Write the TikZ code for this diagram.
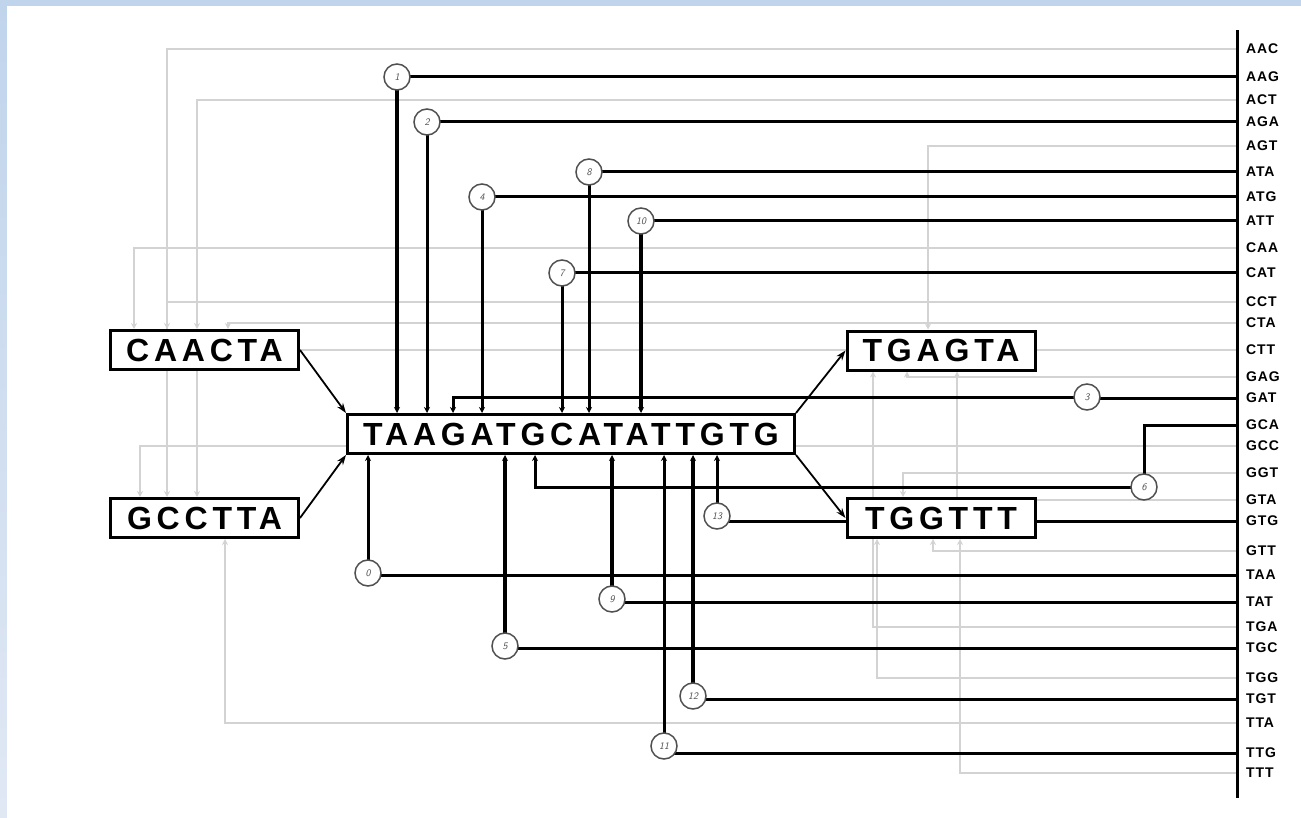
\documentclass[tikz,border=0pt]{standalone}
\usepackage{fontspec}
\setmainfont{Liberation Sans}
\newfontfamily\boxfont{Liberation Sans}[LetterSpace=15]
\newfontfamily\codonfont{Liberation Sans}[LetterSpace=6]
\usetikzlibrary{arrows.meta}
\definecolor{lg}{RGB}{211,211,211}
\definecolor{frameA}{RGB}{192,212,236}
\definecolor{frameB}{RGB}{224,232,244}
\definecolor{ring}{RGB}{80,80,80}
\pgfdeclarelayer{bg}
\pgfdeclarelayer{lines}
\pgfsetlayers{bg,lines,main}
\begin{document}
\begin{tikzpicture}[x=1pt,y=-1pt,
  seqbox/.style={draw=black,line width=3pt,fill=white,inner sep=0pt,minimum width=188pt,minimum height=39pt,font=\boxfont\bfseries\fontsize{32}{32}\selectfont},
  bigbox/.style={seqbox,minimum width=447pt},
  codon/.style={anchor=west,inner sep=0pt,font=\codonfont\bfseries\fontsize{14}{14}\selectfont},
  num/.style={circle,draw=ring,line width=1.5pt,fill=white,minimum size=26pt,inner sep=0pt,font=\sffamily\itshape\fontsize{10}{10}\selectfont,text=ring},
  blk/.style={draw=black,line width=3pt},
  blkarr/.style={blk,-{Stealth[length=6pt,width=6pt]}},
  gry/.style={draw=lg,line width=2.6pt,-{Stealth[length=6pt,width=6pt]}},
  link/.style={draw=black,line width=1.8pt,-{Stealth[length=10pt,width=7pt]}}
]
\useasboundingbox (0,0) rectangle (1301,818);
\begin{pgfonlayer}{bg}
  \shade[top color=frameA,bottom color=frameB] (0,0) rectangle (1301,818);
  \fill[white] (7,6) rectangle (1301,818);
\end{pgfonlayer}

% codon rows
\foreach \n/\yy in {AAC/49,AAG/77,ACT/100,AGA/122,AGT/146,ATA/172,ATG/197,ATT/221,CAA/248,CAT/273,CCT/302,CTA/323,CTT/350,GAG/377,GAT/398,GCA/425,GCC/446,GGT/473,GTA/500,GTG/521,GTT/551,TAA/575,TAT/602,TGA/627,TGC/648,TGG/678,TGT/699,TTA/723,TTG/753,TTT/773}{
  \coordinate (r\n) at (1237,\yy);
  \node[codon] (l\n) at (1246,\yy) {\n};
}
\coordinate (vtop) at (1237,30);
\coordinate (vbot) at (1237,798);
\draw[line width=3pt] (vtop) -- (vbot);

% sequence boxes
\node[seqbox] (CAACTA) at (204.5,350) {CAACTA};
\node[seqbox] (GCCTTA) at (204.5,518) {GCCTTA};
\node[bigbox] (TAAG) at (571,434) {TAAGATGCATATTGTG};
\node[seqbox] (TGAGTA) at (941,350.5) {TGAGTA};
\node[seqbox] (TGGTTT) at (941,518) {TGGTTT};

% numbered circles
\node[num] (c0) at (368,573) {0};
\node[num] (c1) at (397,77) {1};
\node[num] (c2) at (427,122) {2};
\node[num] (c3) at (1087,397) {3};
\node[num] (c4) at (482,197) {4};
\node[num] (c5) at (505,646) {5};
\node[num] (c6) at (1144,487) {6};
\node[num] (c7) at (562,273) {7};
\node[num] (c8) at (589,172) {8};
\node[num] (c9) at (612,599) {9};
\node[num] (c10) at (641,221) {10};
\node[num] (c11) at (664,746) {11};
\node[num] (c12) at (693,696) {12};
\node[num] (c13) at (717,516) {13};

% arrows between boxes
\draw[link] (CAACTA.east) -- (TAAG.north west);
\draw[link] (GCCTTA.east) -- (TAAG.south west);
\draw[link] (TAAG.north east) -- (TGAGTA.west);
\draw[link] (TAAG.south east) -- (TGGTTT.west);

\begin{pgfonlayer}{lines}
  % gray probe lines
  \draw[gry] (rAAC) -| (167,0 |- CAACTA.north);
  \draw[gry] (rACT) -| (197,0 |- CAACTA.north);
  \draw[gry] (rCAA) -| (134,0 |- CAACTA.north);
  \draw[gry] (rCTA) -| (228,0 |- CAACTA.north);
  \draw[gry] (rCCT) -| (167,0 |- GCCTTA.north);
  \draw[gry] (rCTT) -| (197,0 |- GCCTTA.north);
  \draw[gry] (rGCC) -| (140,0 |- GCCTTA.north);
  \draw[gry] (rTTA) -| (225,0 |- GCCTTA.south);
  \draw[gry] (rAGT) -| (928,0 |- TGAGTA.north);
  \draw[gry] (rGAG) -| (907,0 |- TGAGTA.south);
  \draw[gry] (rTGA) -| (873,0 |- TGAGTA.south);
  \draw[gry] (rGTA) -| (957,0 |- TGAGTA.south);
  \draw[gry] (rGGT) -| (903,0 |- TGGTTT.north);
  \draw[gry] (rGTT) -| (933,0 |- TGGTTT.south);
  \draw[gry] (rTGG) -| (877,0 |- TGGTTT.south);
  \draw[gry] (rTTT) -| (960,0 |- TGGTTT.south);
  % black path lines
  \draw[blk] (rTAA) -- (c0 |- rTAA);
  \draw[blkarr] (c0.center) -- (c0 |- TAAG.south);
  \draw[blk] (rAAG) -- (c1.center);
  \draw[blkarr,line width=4pt] (c1.center) -- (c1 |- TAAG.north);
  \draw[blk] (rAGA) -- (c2.center);
  \draw[blkarr] (c2.center) -- (c2 |- TAAG.north);
  \draw[blk] (rGAT) -- (c3 |- rGAT);
  \draw[blkarr] (c3.center) -| (453,0 |- TAAG.north);
  \draw[blk] (rATG) -- (c4.center);
  \draw[blkarr] (c4.center) -- (c4 |- TAAG.north);
  \draw[blk] (rTGC) -- (c5 |- rTGC);
  \draw[blkarr,line width=4pt] (c5.center) -- (c5 |- TAAG.south);
  \draw[blk] (rGCA) -| (c6.center);
  \draw[blkarr] (c6.center) -| (535,0 |- TAAG.south);
  \draw[blk] (rCAT) -- (c7.center);
  \draw[blkarr] (c7.center) -- (c7 |- TAAG.north);
  \draw[blk] (rATA) -- (c8.center);
  \draw[blkarr] (c8.center) -- (c8 |- TAAG.north);
  \draw[blk] (rTAT) -- (c9 |- rTAT);
  \draw[blkarr,line width=3.6pt] (c9.center) -- (c9 |- TAAG.south);
  \draw[blk] (rATT) -- (c10.center);
  \draw[blkarr,line width=4pt] (c10.center) -- (c10 |- TAAG.north);
  \draw[blk] (rTTG) -- (c11 |- rTTG);
  \draw[blkarr] (c11.center) -- (c11 |- TAAG.south);
  \draw[blk] (rTGT) -- (c12 |- rTGT);
  \draw[blkarr,line width=4pt] (c12.center) -- (c12 |- TAAG.south);
  \draw[blk] (rGTG) -- (c13 |- rGTG);
  \draw[blkarr] (c13.center) -- (c13 |- TAAG.south);
\end{pgfonlayer}
\end{tikzpicture}
\end{document}
